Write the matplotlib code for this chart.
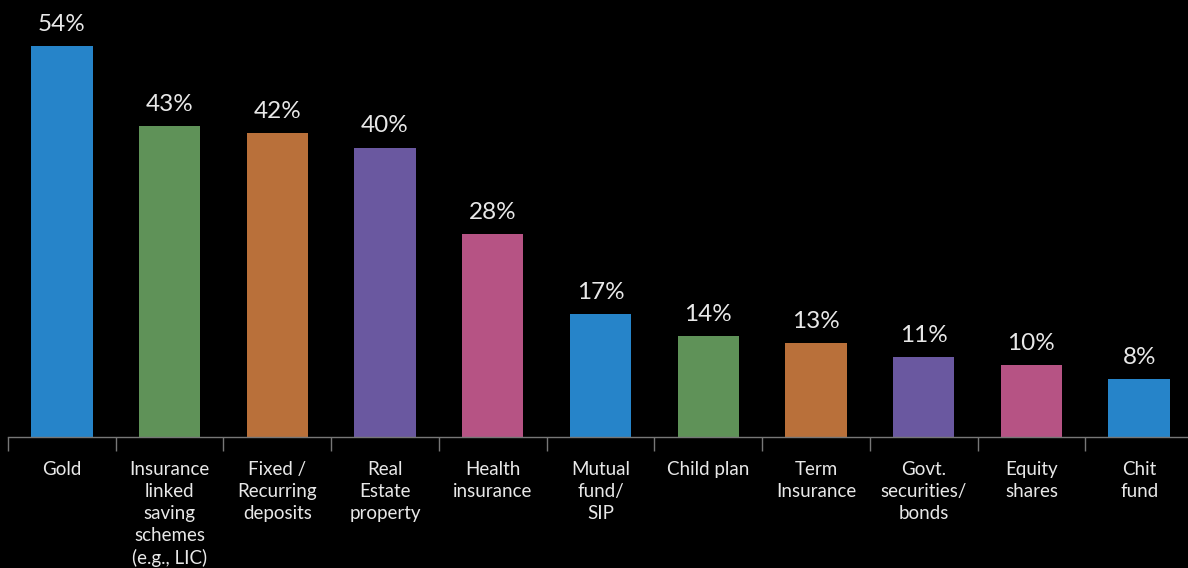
import numpy as np
import matplotlib.pyplot as plt

# Share of respondents holding each investment type
categories = ['Gold', 'Insurance\nlinked\nsaving\nschemes\n(e.g., LIC)', 'Fixed /\nRecurring\ndeposits',
              'Real\nEstate\nproperty', 'Health\ninsurance', 'Mutual\nfund/\nSIP', 'Child plan',
              'Term\nInsurance', 'Govt.\nsecurities/\nbonds', 'Equity\nshares', 'Chit\nfund']
shares = [54, 43, 42, 40, 28, 17, 14, 13, 11, 10, 8]
palette = ['#2684c9', '#5f9258', '#b9703a', '#6a58a0', '#b65384']

plt.rcParams['font.family'] = ['Lato', 'DejaVu Sans']
text_color = '#e8e8e8'

fig = plt.figure(figsize=(11.88, 5.68), dpi=100, facecolor='black')
# axis runs slightly past the right edge, like the original export
ax = fig.add_axes([8 / 1188, 131 / 568, 1185 / 1188, 437 / 568])
ax.set_facecolor('black')

x = np.arange(len(shares))
colors = [palette[i % len(palette)] for i in range(len(shares))]
bars = ax.bar(x, shares, width=0.57, color=colors)

for rect, v in zip(bars, shares):
    ax.annotate(f'{v}%', (rect.get_x() + rect.get_width() / 2, v),
                xytext=(0, 8), textcoords='offset points', ha='center', va='bottom',
                color=text_color, fontsize=17.5)

ax.set_xlim(-0.5, len(shares) - 0.5)
ax.set_ylim(0, 60.4)

ax.set_xticks(x)
ax.set_xticklabels(categories, color=text_color, fontsize=13.5, linespacing=1.36, va='top')
ax.tick_params(axis='x', which='major', length=0, pad=17)
ax.set_xticks(np.arange(len(shares)) - 0.5, minor=True)
ax.tick_params(axis='x', which='minor', length=10, width=1, color='#777777')
ax.set_yticks([])

for side in ['top', 'right', 'left']:
    ax.spines[side].set_visible(False)
ax.spines['bottom'].set_color('#777777')
ax.spines['bottom'].set_linewidth(1)

fig.savefig('out.png', dpi=100, facecolor='black')
